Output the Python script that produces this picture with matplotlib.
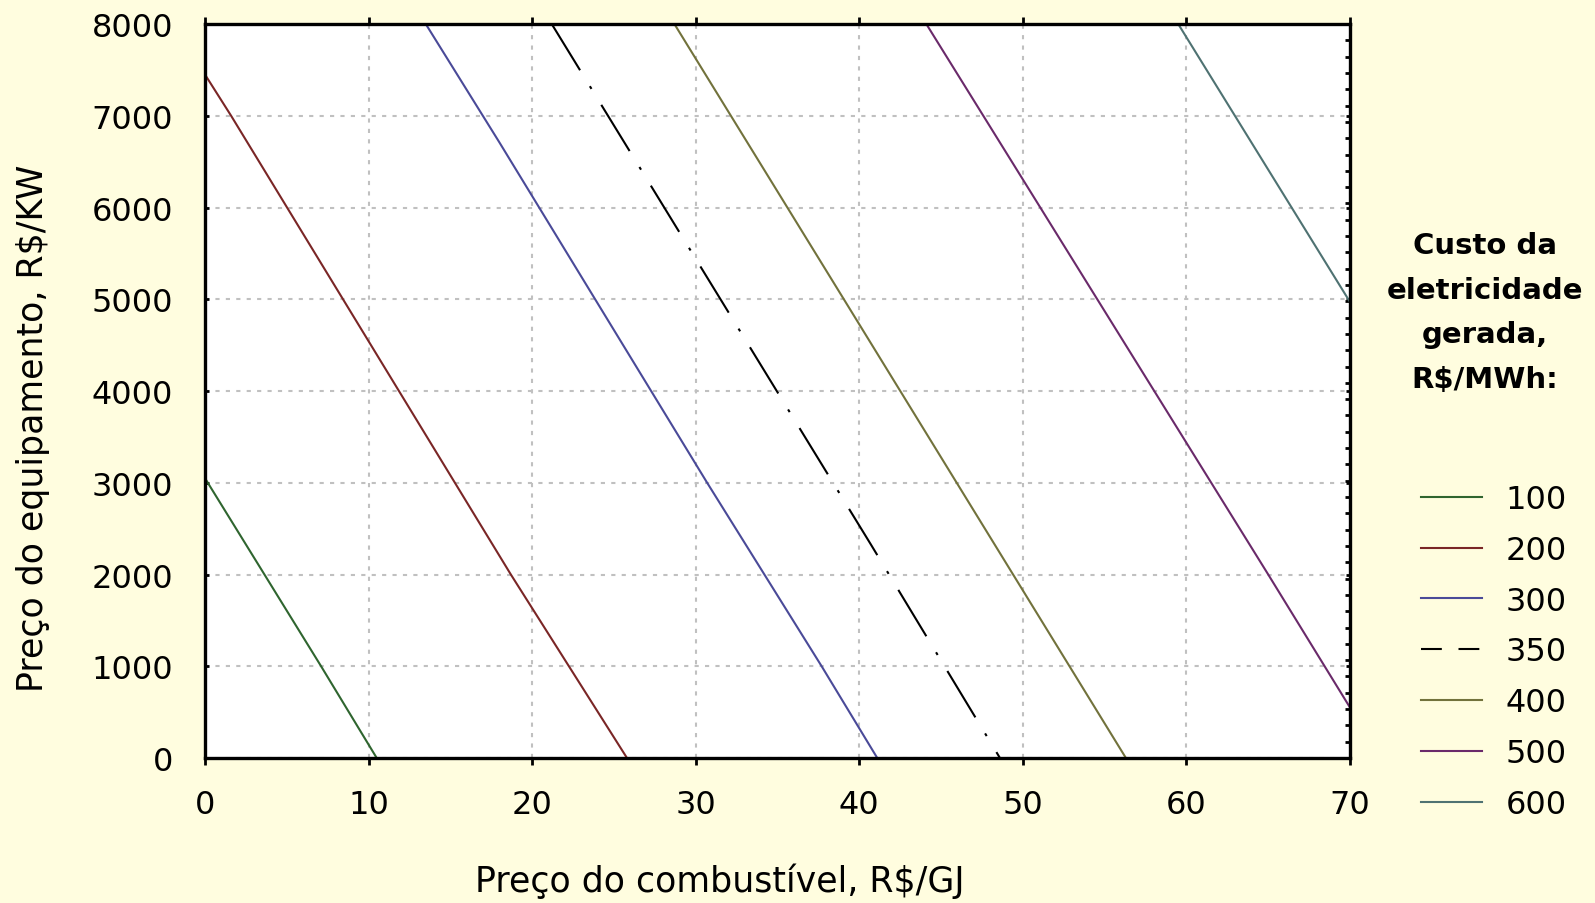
import matplotlib
matplotlib.use("Agg")
import matplotlib.pyplot as plt
from matplotlib.ticker import MultipleLocator
from matplotlib.lines import Line2D

# === Data: iso-cost lines ===
# x = fuel price (R$/GJ), y = equipment price (R$/kW)
levels = ["100", "200", "300", "350", "400", "500", "600"]

x_100 = [0.0, 7.1, 10.5]
y_100 = [3050, 1000, 0]

x_200 = [0.0, 1.6, 18.7, 25.8]
y_200 = [7450, 7000, 2000, 0]

x_300 = [13.5, 18.0, 30.7, 34.2, 37.7, 41.1]
y_300 = [8000, 6710, 3000, 2000, 1000, 0]

x_350 = [21.2, 40.7, 48.6]
y_350 = [8000, 2330, 0]

x_400 = [28.7, 39.8, 56.3]
y_400 = [8000, 4785, 0]

x_500 = [44.1, 65.0, 70.0]
y_500 = [8000, 2000, 550]

x_600 = [59.5, 70.0]
y_600 = [8000, 4970]

series_x = [x_100, x_200, x_300, x_350, x_400, x_500, x_600]
series_y = [y_100, y_200, y_300, y_350, y_400, y_500, y_600]

colors = ["#2f652f", "#7a2626", "#4a4a98", "#000000", "#72723c", "#6a2a6a", "#4f7272"]
styles = ["-", "-", "-", (0, (26, 9, 1.5, 9)), "-", "-", "-"]

# === Figure ===
bg = "#fffddf"
fig = plt.figure(figsize=(15.95, 9.04), dpi=100, facecolor=bg)
ax = fig.add_axes([0.1285, 0.1604, 0.7179, 0.8119])
ax.set_facecolor("white")

for xs, ys, c, ls in zip(series_x, series_y, colors, styles):
    ax.plot(xs, ys, color=c, linestyle=ls, linewidth=1.5)

ax.set_xlim(0, 70)
ax.set_ylim(0, 8000)
ax.xaxis.set_major_locator(MultipleLocator(10))
ax.yaxis.set_major_locator(MultipleLocator(1000))
ax.yaxis.set_minor_locator(MultipleLocator(8000 / 45))

ax.grid(True, which="major", color="#c0c0c0", linestyle=(0, (2, 3)), linewidth=1.5)

for sp in ax.spines.values():
    sp.set_linewidth(2.4)
    sp.set_color("black")

ax.tick_params(axis="x", direction="out", top=True, bottom=True, length=5,
               width=2, labelsize=23, pad=17)
ax.tick_params(axis="y", which="major", direction="in", left=True, right=True,
               length=3, width=2, labelsize=23, pad=23)
ax.tick_params(axis="y", which="minor", direction="in", left=False, right=True,
               length=3.5, width=2)

ax.set_xlabel("Preço do combustível, R$/GJ", fontsize=25)
ax.set_ylabel("Preço do equipamento, R$/KW", fontsize=25)
ax.xaxis.set_label_coords(0.45, -0.143)
ax.yaxis.set_label_coords(-0.135, 0.45)

# === Legend ===
fig.text(0.931, 0.654, "Custo da\neletricidade\ngerada,\nR$/MWh:",
         ha="center", va="center", multialignment="center",
         fontsize=21, fontweight="bold", linespacing=1.75)

handles = [Line2D([0], [0], color=c, linestyle=("-" if ls == "-" else (0, (10, 8))),
                  linewidth=1.5) for c, ls in zip(colors, styles)]
fig.legend(handles, levels, loc="upper left", bbox_to_anchor=(0.891, 0.4635),
           frameon=False, fontsize=23, handlelength=1.9, handletextpad=0.75,
           labelspacing=0.62, borderpad=0, borderaxespad=0)

fig.savefig("out.png", dpi=100, facecolor=bg)
